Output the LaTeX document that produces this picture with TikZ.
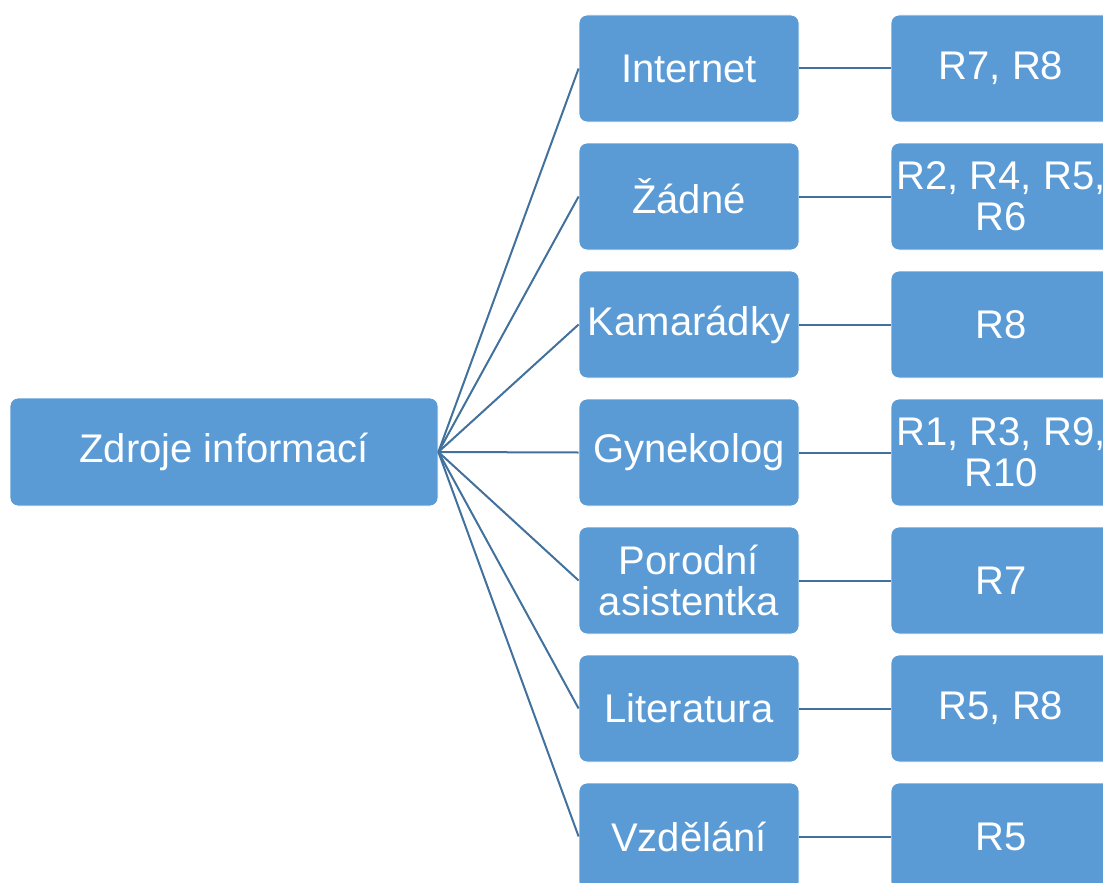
\documentclass[tikz,border=0pt]{standalone}
\usepackage{fontspec}
\setmainfont{Liberation Sans}
\definecolor{boxfill}{HTML}{5B9BD5}
\definecolor{linkcol}{HTML}{41719C}
\begin{document}
\begin{tikzpicture}[x=1pt,y=-1pt,
  box/.style={rectangle, rounded corners=8pt, fill=boxfill, draw=white, line width=0.8pt,
    text=white, inner sep=0pt, align=center, font=\fontsize{40}{41}\selectfont},
  midbox/.style={box, minimum width=220pt, minimum height=107pt},
  link/.style={draw=linkcol, line width=2pt}]
\useasboundingbox (0,0) rectangle (1103,883);
\clip (0,0) rectangle (1103,883);
\node[box, minimum width=428pt, minimum height=108pt] (root) at (224,452) {Zdroje informací};
% second level and leaves
\foreach \i/\mid/\leaf in {0/Internet/{R7, R8},
  1/Žádné/{R2, R4, R5,\\R6},
  2/Kamarádky/R8,
  3/Gynekolog/{R1, R3, R9,\\R10},
  4/{Porodní\\asistentka}/R7,
  5/Literatura/{R5, R8},
  6/Vzdělání/R5} {
  \node[midbox] (m\i) at (689,68.5+128*\i) {\mid};
  \node[midbox] (r\i) at (1001,68.5+128*\i) {\leaf};
  \draw[link] (root.east) -- (m\i.west);
  \draw[link] (m\i.east) -- (r\i.west);
}
\end{tikzpicture}
\end{document}
